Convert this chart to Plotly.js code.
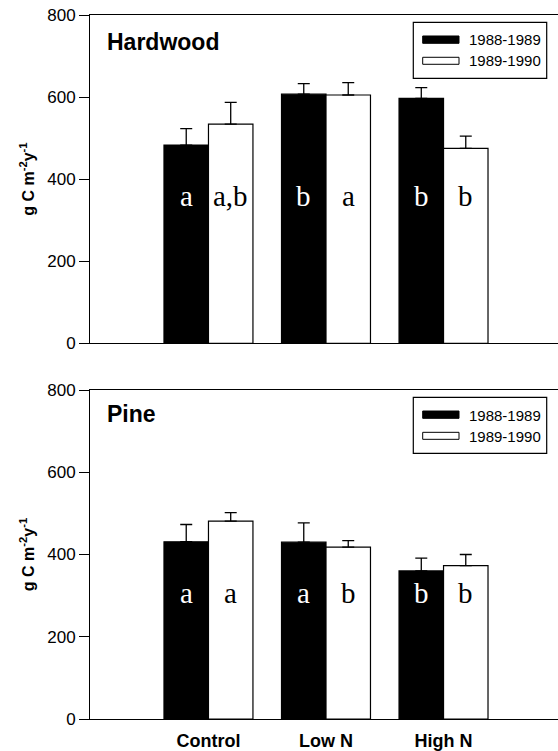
<!DOCTYPE html>
<html>
<head>
<meta charset="utf-8">
<script src="https://cdn.plot.ly/plotly-3.0.1.min.js"></script>
<style>html,body{margin:0;padding:0;overflow:hidden;background:#fff;}</style>
</head>
<body>
<div id="chart" style="width:558px;height:751px;"></div>
<script>
const categories = ['Control', 'Low N', 'High N'];
const seriesNames = ['1988-1989', '1989-1990'];
const hw8889 = [483, 607, 597];
const hwErr8889 = [40, 26, 26];
const hw8990 = [534, 605, 475];
const hwErr8990 = [53, 30, 30];
const pine8889 = [431, 430, 360];
const pineErr8889 = [42, 47, 31];
const pine8990 = [481, 418, 373];
const pineErr8990 = [21, 16, 27];
const hwLetters8889 = ['a', 'b', 'b'];
const hwLetters8990 = ['a,b', 'a', 'b'];
const pineLetters8889 = ['a', 'a', 'b'];
const pineLetters8990 = ['a', 'b', 'b'];
const panelNames = ['Hardwood', 'Pine'];
const yTicks = [0, 200, 400, 600, 800];

const SANS = 'Arial, "Liberation Sans", sans-serif';
const SERIF = '"Times New Roman", "Liberation Serif", serif';
const L = 90, W = 468;
const panelH = [328.3, 329];

function barTrace(vals, errs, name, fill, xa, ya) {
  return {
    type: 'bar', x: categories, y: vals, name: name, xaxis: xa, yaxis: ya,
    showlegend: false,
    marker: {color: fill, line: {color: '#000', width: 1.2}},
    error_y: {type: 'data', array: errs, arrayminus: errs.map(() => 0), symmetric: false,
              color: '#000', thickness: 1.3, width: 6}
  };
}

const data = [
  barTrace(hw8889, hwErr8889, seriesNames[0], '#000', 'x', 'y'),
  barTrace(hw8990, hwErr8990, seriesNames[1], '#fff', 'x', 'y'),
  barTrace(pine8889, pineErr8889, seriesNames[0], '#000', 'x2', 'y2'),
  barTrace(pine8990, pineErr8990, seriesNames[1], '#fff', 'x2', 'y2')
];

const annotations = [];
const shapes = [];
const off = 0.757 / 4;
function letters(arr, sign, color, xa, ya, yv) {
  arr.forEach((t, i) => {
    annotations.push({xref: xa, yref: ya, x: i + sign * off, y: yv, text: t, showarrow: false,
      xanchor: 'center', yanchor: 'middle', font: {family: SERIF, size: 29, color: color}});
  });
}
letters(hwLetters8889, -1, '#fff', 'x', 'y', 360);
letters(hwLetters8990, 1, '#000', 'x', 'y', 360);
letters(pineLetters8889, -1, '#fff', 'x2', 'y2', 306);
letters(pineLetters8990, 1, '#000', 'x2', 'y2', 306);

function fx(px) { return (px - L) / W; }
[['x', 'y'], ['x2', 'y2']].forEach((ax, k) => {
  const H = panelH[k];
  const fy = (p) => 1 - p / H;
  const xr = ax[0] + ' domain', yr = ax[1] + ' domain';
  annotations.push({xref: xr, yref: yr, x: fx(105), y: fy(k === 0 ? 27.5 : 24), text: '<b>' + panelNames[k] + '</b>',
    showarrow: false, xanchor: 'left', yanchor: 'middle', font: {family: SANS, size: 23, color: '#000'}});
  shapes.push({type: 'rect', xref: xr, yref: yr, x0: fx(413.3), x1: fx(546.7), y0: fy(7.3), y1: fy(63.3),
    line: {color: '#000', width: 1.2}, fillcolor: 'rgba(0,0,0,0)'});
  shapes.push({type: 'rect', xref: xr, yref: yr, x0: fx(422.7), x1: fx(459), y0: fy(21), y1: fy(28.3),
    line: {color: '#000', width: 1}, fillcolor: '#000'});
  shapes.push({type: 'rect', xref: xr, yref: yr, x0: fx(422.7), x1: fx(459), y0: fy(42.3), y1: fy(49.3),
    line: {color: '#000', width: 1}, fillcolor: '#fff'});
  seriesNames.forEach((n, j) => {
    annotations.push({xref: xr, yref: yr, x: fx(467), y: fy(j === 0 ? 25 : 46), text: n, showarrow: false,
      xanchor: 'left', yanchor: 'middle', font: {family: SANS, size: 15, color: '#000'}});
  });
});

function yAxis(domain, anchor) {
  return {
    domain: domain, anchor: anchor, range: [0, 800], tickvals: yTicks, ticks: 'outside', ticklen: 10,
    tickwidth: 1, tickcolor: '#000', showline: true, linecolor: '#000', linewidth: 1,
    showgrid: false, zeroline: false, tickfont: {family: SANS, size: 17, color: '#000'},
    title: {text: 'g C m<sup>-2</sup>y<sup>-1</sup>', standoff: 8,
            font: {family: SANS, size: 16, color: '#000', weight: 'bold'}}
  };
}
function xAxis(domain, anchor, showLabels) {
  return {
    domain: domain, anchor: anchor, type: 'category', range: [-1.008, 2.974],
    showline: true, mirror: true, linecolor: '#000', linewidth: 1, ticks: '',
    showgrid: false, zeroline: false, showticklabels: showLabels, ticklabelstandoff: 5,
    tickfont: {family: SANS, size: 18, color: '#000', weight: 'bold'}
  };
}

const layout = {
  width: 558, height: 751,
  margin: {l: L, r: 0, t: 15, b: 32},
  paper_bgcolor: '#fff', plot_bgcolor: '#fff',
  barmode: 'group', bargap: 0.243, bargroupgap: 0,
  showlegend: false,
  xaxis: xAxis([0, 1], 'y', false),
  yaxis: yAxis([0.5337, 1], 'x'),
  xaxis2: xAxis([0, 1], 'y2', true),
  yaxis2: yAxis([0, 0.4673], 'x2'),
  annotations: annotations,
  shapes: shapes
};

Plotly.newPlot('chart', data, layout, {displayModeBar: false, staticPlot: true});
</script>
</body>
</html>
